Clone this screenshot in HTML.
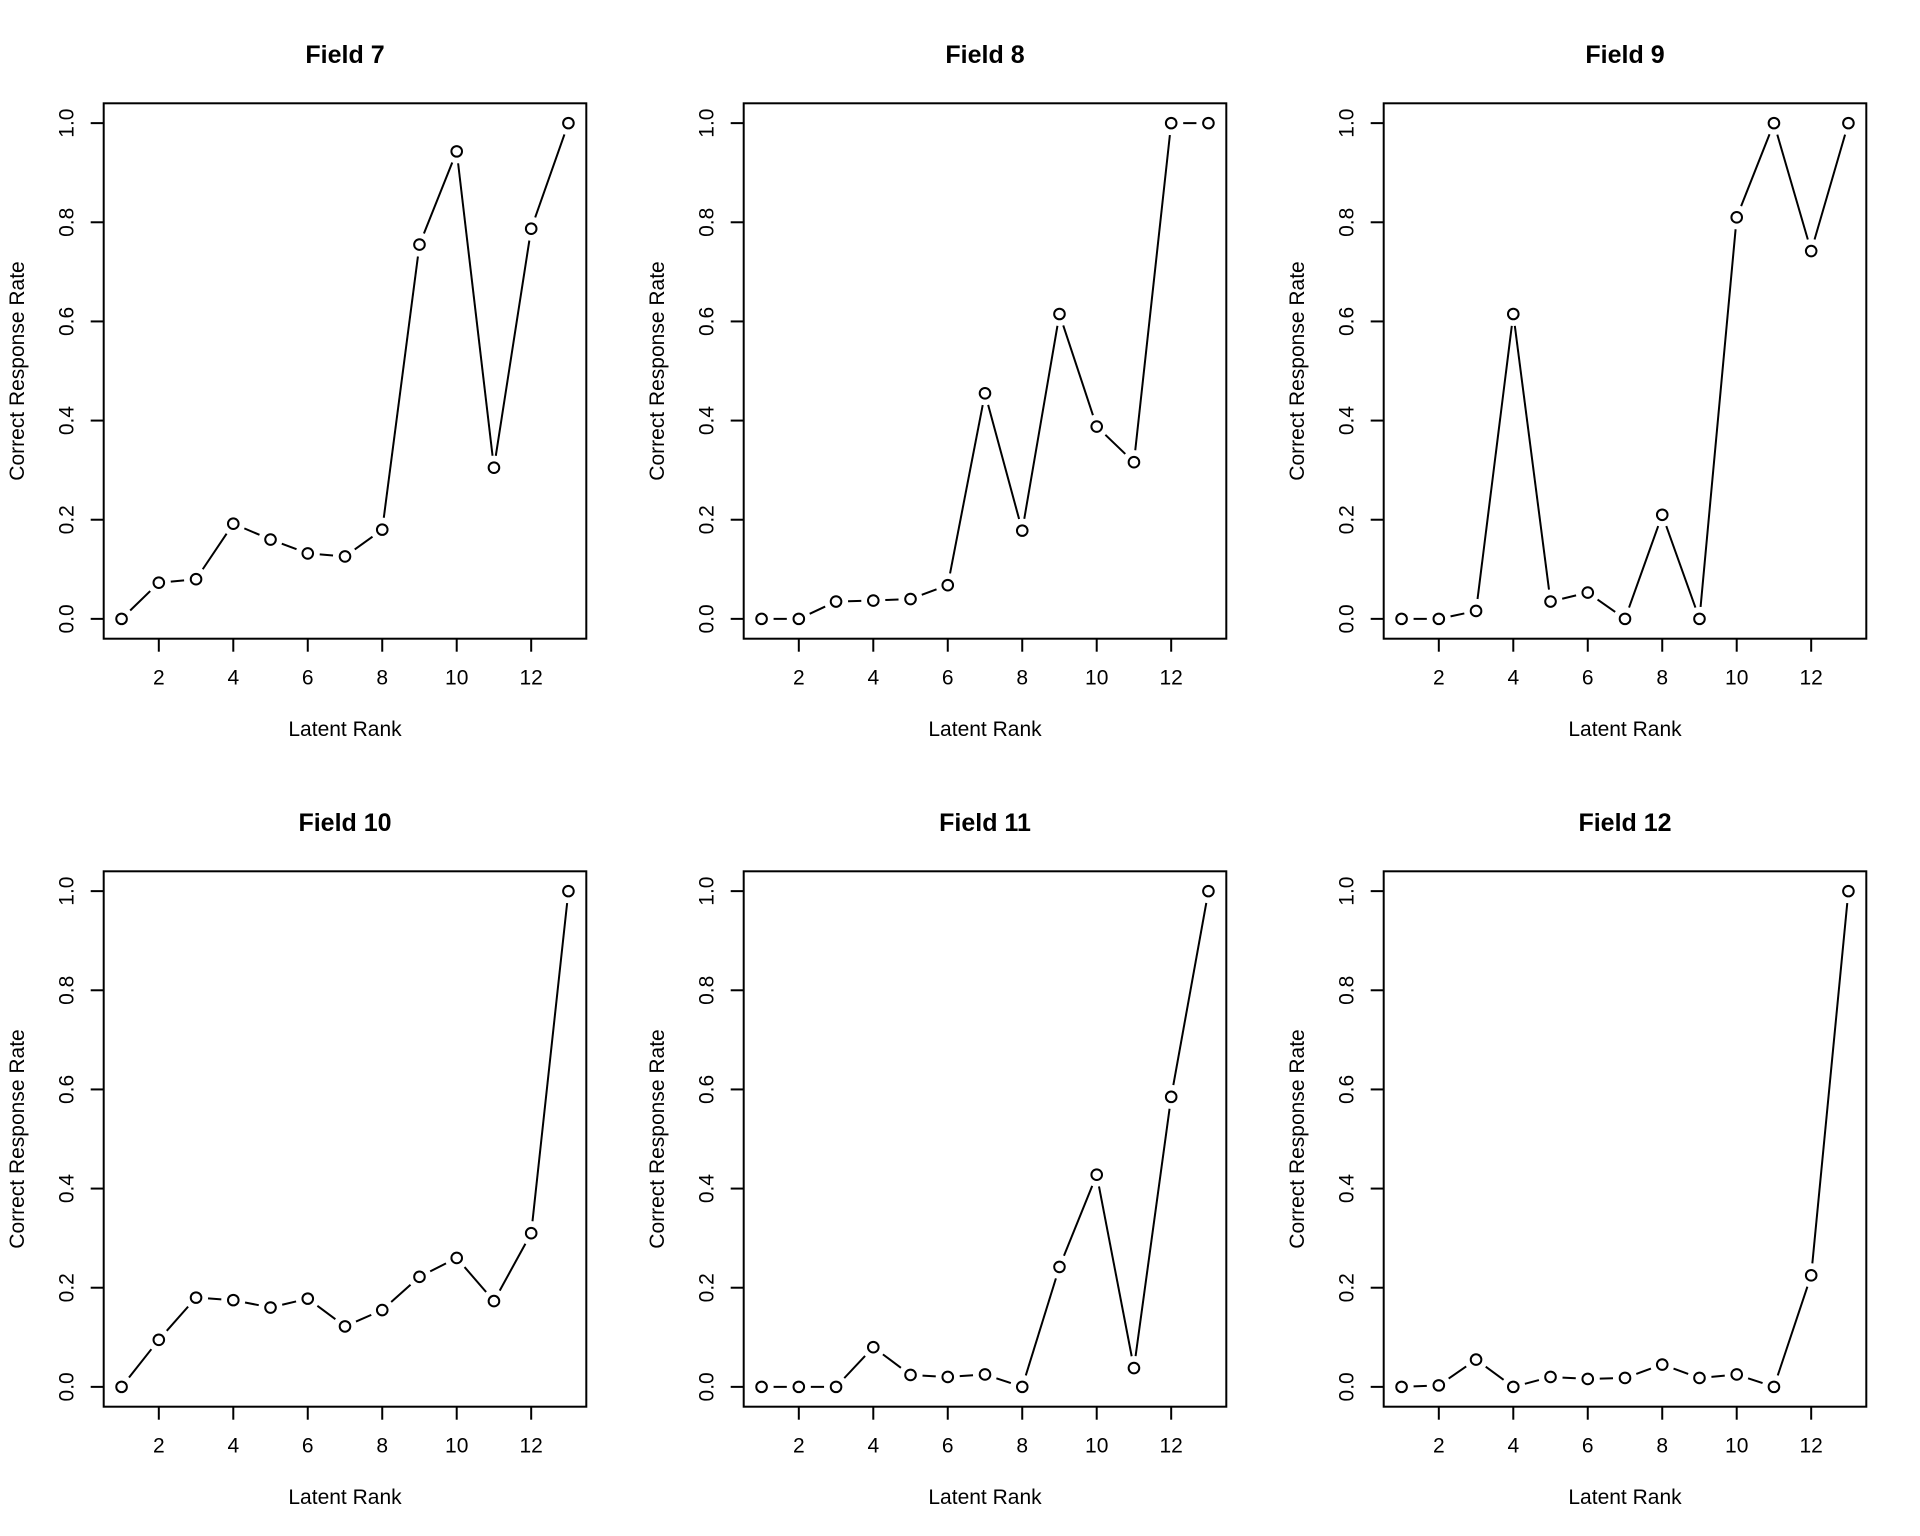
<!DOCTYPE html>
<html><head><meta charset="utf-8">
<style>
html,body{margin:0;padding:0;background:#fff;}
svg{display:block;font-family:"Liberation Sans",Arial,sans-serif;}
</style></head>
<body>
<svg id="chart" width="1920" height="1536" viewBox="0 0 1920 1536" xmlns="http://www.w3.org/2000/svg"></svg>
<script>
const titles = ["Field 7","Field 8","Field 9","Field 10","Field 11","Field 12"];
const ranks = [1,2,3,4,5,6,7,8,9,10,11,12,13];
const field7 = [0,0.073,0.08,0.192,0.16,0.132,0.126,0.18,0.755,0.943,0.305,0.787,1.0];
const field8 = [0,0,0.035,0.037,0.04,0.068,0.455,0.178,0.615,0.388,0.316,1,1];
const field9 = [0,0,0.016,0.615,0.035,0.053,0,0.21,0,0.81,1,0.742,1];
const field10 = [0,0.095,0.18,0.175,0.16,0.178,0.122,0.155,0.222,0.26,0.173,0.31,1];
const field11 = [0,0,0,0.08,0.024,0.02,0.025,0,0.242,0.428,0.038,0.585,1];
const field12 = [0,0.003,0.055,0,0.02,0.016,0.018,0.045,0.018,0.025,0,0.225,1];
const xTicks = [2,4,6,8,10,12];
const yTicks = [0,0.2,0.4,0.6,0.8,1.0];
const yTickLabels = ["0.0","0.2","0.4","0.6","0.8","1.0"];
const series = [field7,field8,field9,field10,field11,field12];

const NS = "http://www.w3.org/2000/svg";
const svg = document.getElementById("chart");
function mk(tag, attrs, parent){
  const e = document.createElementNS(NS, tag);
  for (const k in attrs) e.setAttribute(k, attrs[k]);
  parent.appendChild(e);
  return e;
}
series.forEach((vals, p) => {
  const ox = (p % 3) * 640, oy = Math.floor(p / 3) * 768;
  const L = ox + 103.7, R = ox + 586.3, T = oy + 103.3, B = oy + 638.7;
  const xmin = 1 - 0.48, xmax = 13 + 0.48, ymin = -0.04, ymax = 1.04;
  const sx = v => L + (v - xmin) / (xmax - xmin) * (R - L);
  const sy = v => B - (v - ymin) / (ymax - ymin) * (B - T);
  const g = mk("g", {}, svg);
  
  
  const t = mk("text", {x: ox + 345, y: oy + 63, "text-anchor": "middle", "font-size": "25", "font-weight": "bold"}, g);
  t.textContent = titles[p];
  
  
  const box = mk("rect", {x: L, y: T, width: R - L, height: B - T, fill: "none", stroke: "#000", "stroke-width": 2}, g);
  
  
  xTicks.forEach(v => {
    const x = sx(v);
    const tk = mk("line", {x1: x, x2: x, y1: B, y2: B + 13, stroke: "#000", "stroke-width": 2}, g);
    
    
    const lb = mk("text", {x: x, y: B + 46, "text-anchor": "middle", "font-size": "21"}, g);
    lb.textContent = v;
    
    
  });
  yTicks.forEach((v, i) => {
    const y = sy(v);
    const tk = mk("line", {x1: L - 13, x2: L, y1: y, y2: y, stroke: "#000", "stroke-width": 2}, g);
    
    
    const lb = mk("text", {x: L - 30, y: y, "text-anchor": "middle", "font-size": "21", transform: `rotate(-90 ${L - 30} ${y})`}, g);
    lb.textContent = yTickLabels[i];
    
    
  });
  const xl = mk("text", {x: ox + 345, y: oy + 736, "text-anchor": "middle", "font-size": "21"}, g);
  xl.textContent = "Latent Rank";
  
  
  const yx = ox + 24, yy = (T + B) / 2;
  const yl = mk("text", {x: yx, y: yy, "text-anchor": "middle", "font-size": "21", transform: `rotate(-90 ${yx} ${yy})`}, g);
  yl.textContent = "Correct Response Rate";
  
  
  const gap = 12;
  for (let i = 0; i < ranks.length - 1; i++) {
    const x1 = sx(ranks[i]), y1 = sy(vals[i]), x2 = sx(ranks[i + 1]), y2 = sy(vals[i + 1]);
    const d = Math.hypot(x2 - x1, y2 - y1);
    if (d <= 2 * gap) continue;
    const ux = (x2 - x1) / d, uy = (y2 - y1) / d;
    const seg = mk("line", {x1: x1 + ux * gap, y1: y1 + uy * gap, x2: x2 - ux * gap, y2: y2 - uy * gap, stroke: "#000", "stroke-width": 2}, g);
    
    
  }
  ranks.forEach((r, i) => {
    const c = mk("circle", {cx: sx(r), cy: sy(vals[i]), r: 5.3, fill: "#fff", stroke: "#000", "stroke-width": 2}, g);
    
    
  });
});
</script>
</body></html>
